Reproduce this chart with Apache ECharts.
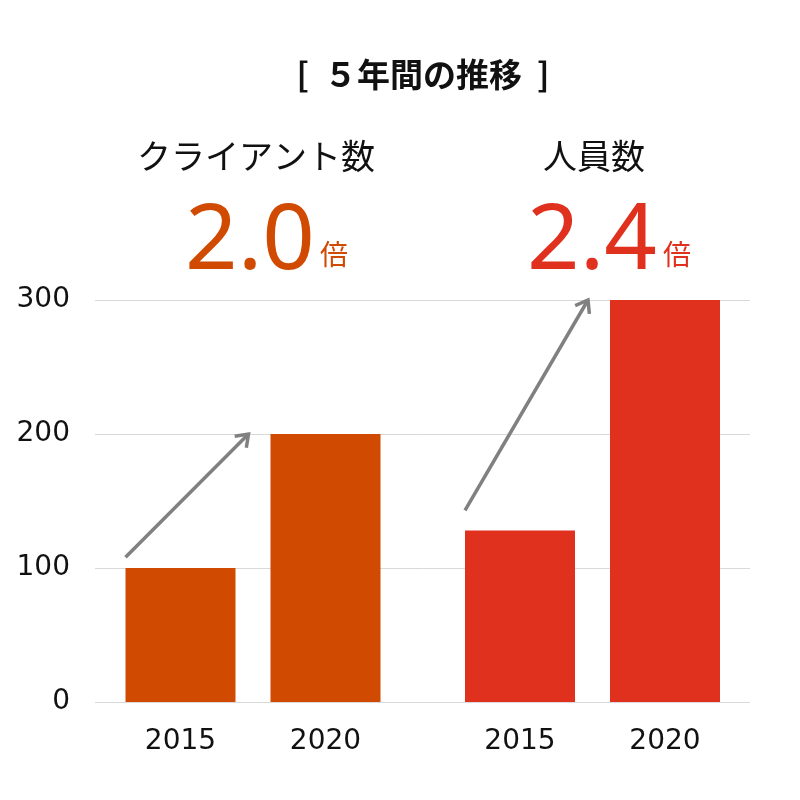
<!DOCTYPE html>
<html><head><meta charset="utf-8">
<script src="https://cdn.jsdelivr.net/npm/echarts@6/dist/echarts.min.js"></script>
<style>html,body{margin:0;padding:0;background:#fff}#c{width:800px;height:800px}</style>
</head><body><div id="c"></div>
<script>
const years = ['2015', '2020'];
const clientValues = [100, 200];
const staffValues = [128, 300];
const yTicks = [0, 100, 200, 300];
const titleText = '[  ５年間の推移  ]';
const groupNames = ['クライアント数', '人員数'];
const ratioTexts = ['2.0', '2.4'];
const ratioUnit = '倍';
// arrow annotation values [startValue, endValue] per group
const arrowValues = [[108, 200], [143, 300]];

const ORANGE = '#D04A02', RED = '#E0301E';
const JP = '"Noto Sans CJK JP", "Noto Sans", sans-serif';
const NUM = '"DejaVu Sans", "Noto Sans", sans-serif';

const chart = echarts.init(document.getElementById('c'));
const yBase = {type: 'value', min: yTicks[0], max: yTicks[yTicks.length - 1], interval: 100};
const xLabel = {fontSize: 28, color: '#111', fontFamily: NUM, margin: 26};
const option = {
  animation: false,
  grid: [
    {left: 95, right: 50, top: 300, bottom: 98},
    {left: 108, width: 290, top: 300, bottom: 98},
    {left: 447.5, width: 290, top: 300, bottom: 98}
  ],
  xAxis: [
    {type: 'category', gridIndex: 0, data: [''], show: false},
    {type: 'category', gridIndex: 1, data: years, axisLine: {show: false}, axisTick: {show: false}, axisLabel: xLabel},
    {type: 'category', gridIndex: 2, data: years, axisLine: {show: false}, axisTick: {show: false}, axisLabel: xLabel}
  ],
  yAxis: [
    Object.assign({gridIndex: 0, axisLine: {show: false}, axisTick: {show: false},
      axisLabel: {fontSize: 28, color: '#111', fontFamily: NUM, margin: 25},
      splitLine: {lineStyle: {color: '#d9d9d9', width: 1}}}, yBase),
    Object.assign({gridIndex: 1, show: false, splitLine: {show: false}}, yBase),
    Object.assign({gridIndex: 2, show: false, splitLine: {show: false}}, yBase)
  ],
  series: [
    {type: 'bar', xAxisIndex: 0, yAxisIndex: 0, data: []},
    {type: 'bar', xAxisIndex: 1, yAxisIndex: 1, data: clientValues, barWidth: 110, itemStyle: {color: ORANGE}},
    {type: 'bar', xAxisIndex: 2, yAxisIndex: 2, data: staffValues, barWidth: 110, itemStyle: {color: RED}}
  ]
};
chart.setOption(option);

function arrow(p0, p1) {
  const ang = Math.atan2(p1[1] - p0[1], p1[0] - p0[0]);
  const L = 14, a = Math.PI / 5;
  const h1 = [p1[0] - L * Math.cos(ang - a), p1[1] - L * Math.sin(ang - a)];
  const h2 = [p1[0] - L * Math.cos(ang + a), p1[1] - L * Math.sin(ang + a)];
  const st = {stroke: '#808080', lineWidth: 3.5, fill: null};
  return [
    {type: 'polyline', shape: {points: [p0, p1]}, style: st, z: 10},
    {type: 'polyline', shape: {points: [h1, p1, h2]}, style: st, z: 10}
  ];
}
const graphics = [];
[[1, 0], [2, 1]].forEach(([gi, k]) => {
  const s = chart.convertToPixel({gridIndex: gi}, [years[0], arrowValues[k][0]]);
  const e = chart.convertToPixel({gridIndex: gi}, [years[1], arrowValues[k][1]]);
  const p0 = [s[0] - 55, s[1]];
  const p1 = [e[0] - 77, e[1]];
  graphics.push(...arrow(p0, p1));
});
const textEls = [
  {type: 'text', x: 423, y: 74, style: {text: titleText, font: 'bold 33px ' + JP, fill: '#111', align: 'center', verticalAlign: 'middle'}},
  {type: 'text', x: 256, y: 156, style: {text: groupNames[0], font: '34px ' + JP, fill: '#111', align: 'center', verticalAlign: 'middle'}},
  {type: 'text', x: 594, y: 156, style: {text: groupNames[1], font: '34px ' + JP, fill: '#111', align: 'center', verticalAlign: 'middle'}},
  {type: 'text', x: 250, y: 197, style: {text: ratioTexts[0], font: '92px "Noto Sans", sans-serif', fill: ORANGE, align: 'center', verticalAlign: 'top'}},
  {type: 'text', x: 592, y: 197, style: {text: ratioTexts[1], font: '92px "Noto Sans", sans-serif', fill: RED, align: 'center', verticalAlign: 'top'}},
  {type: 'text', x: 334, y: 254, style: {text: ratioUnit, font: '28px ' + JP, fill: ORANGE, align: 'center', verticalAlign: 'middle'}},
  {type: 'text', x: 677, y: 254, style: {text: ratioUnit, font: '28px ' + JP, fill: RED, align: 'center', verticalAlign: 'middle'}}
];
chart.setOption({graphic: graphics.concat(textEls)});
</script></body></html>
